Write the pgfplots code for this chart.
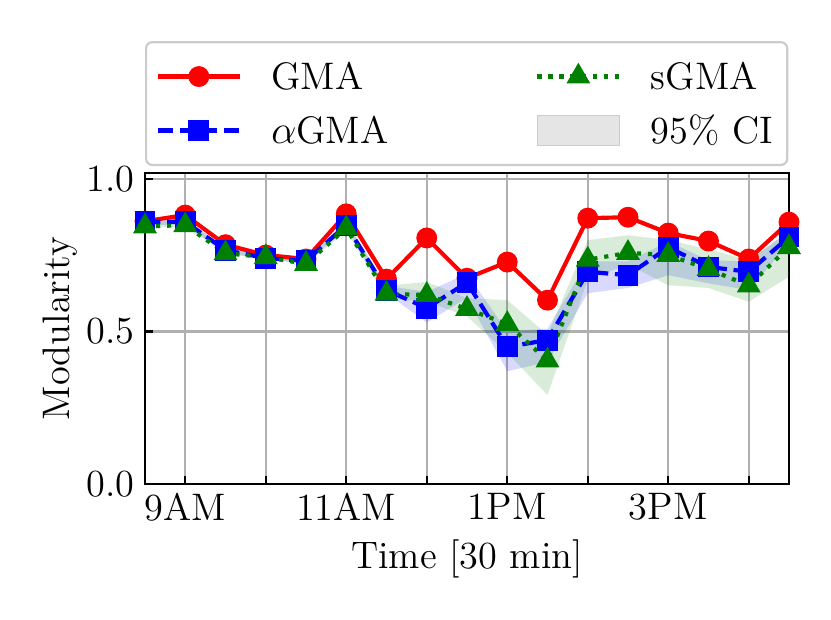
\documentclass[border=0pt]{standalone}
\usepackage{fontspec}
\usepackage{pgfplots}
\pgfplotsset{compat=1.18}
\definecolor{mgreen}{RGB}{0,128,0}
\begin{document}
\begin{tikzpicture}
\begin{axis}[
  scale only axis, width=193.2pt, height=93.3pt,
  xmin=8.5, xmax=16.5, ymin=0, ymax=1.02,
  xtick={9,...,16}, xticklabels={9AM,,11AM,,1PM,,3PM,},
  ytick={0,0.5,1}, yticklabels={0.0,0.5,1.0},
  tick align=inside, xtick pos=left, ytick pos=left,
  major tick length=2.4pt,
  every tick/.style={black, line width=0.67pt},
  grid=major, major grid style={color=black!31, line width=0.67pt},
  axis line style={line width=0.67pt},
  font=\fontsize{11.5}{13.8}\selectfont,
  xticklabel style={inner sep=2.5pt},
  yticklabel style={inner xsep=3pt},
  xlabel={Time [30 min]}, ylabel={Modularity},
  xlabel style={at={(axis description cs:0.5,-0.270)}, anchor=base, inner sep=0pt},
  ylabel style={at={(axis description cs:-0.104,0.5)}, anchor=south, inner sep=0pt},
  legend columns=2, legend cell align=left,
  legend image code/.code={\draw[mark repeat=2,mark phase=2,#1] plot coordinates {(0pt,0pt) (12.3pt,0pt) (24.6pt,0pt)};},
  legend style={
    at={(0,1)}, anchor=south west, yshift=2.1pt,
    draw=black!20, line width=0.67pt, rounded corners=1.8pt, fill=white,
    inner xsep=2.9pt, inner ysep=4.8pt,
    nodes={inner sep=0pt, text height=9.5pt, text depth=1.5pt, text width=38pt, align=left},
    row sep=5.2pt,
    /tikz/every odd column/.append style={column sep=8.8pt},
    /tikz/column 2/.append style={column sep=41.2pt},
    font=\fontsize{11.5}{13.8}\selectfont,
  },
]
% CI bands
\addplot[draw=none, fill=blue, fill opacity=0.15, forget plot] coordinates {
 (8.5,0.870) (9,0.870) (9.5,0.775) (10,0.750) (10.5,0.740) (11,0.860) (11.5,0.650) (12,0.630) (12.5,0.690) (13,0.500) (13.5,0.510) (14,0.730) (14.5,0.730) (15,0.795) (15.5,0.734) (16,0.730) (16.5,0.830)
 (16.5,0.790) (16,0.636) (15.5,0.658) (15,0.685) (14.5,0.643) (14,0.626) (13.5,0.400) (13,0.370) (12.5,0.610) (12,0.530) (11.5,0.625) (11,0.840) (10.5,0.725) (10,0.735) (9.5,0.760) (9,0.850) (8.5,0.850)} -- cycle;
\addplot[draw=none, fill=mgreen, fill opacity=0.15, forget plot] coordinates {
 (8.5,0.860) (9,0.865) (9.5,0.775) (10,0.760) (10.5,0.740) (11,0.860) (11.5,0.650) (12,0.663) (12.5,0.610) (13,0.603) (13.5,0.490) (14,0.800) (14.5,0.816) (15,0.800) (15.5,0.770) (16,0.734) (16.5,0.830)
 (16.5,0.680) (16,0.598) (15.5,0.643) (15,0.652) (14.5,0.720) (14,0.670) (13.5,0.292) (13,0.430) (12.5,0.550) (12,0.598) (11.5,0.610) (11,0.830) (10.5,0.720) (10,0.740) (9.5,0.755) (9,0.845) (8.5,0.840)} -- cycle;
% GMA
\addplot[red, line width=1.25pt, mark=*, mark size=2.5pt, mark options={solid}, forget plot] coordinates {
 (8.5,0.862) (9,0.882) (9.5,0.785) (10,0.751) (10.5,0.738) (11,0.886) (11.5,0.672) (12,0.807) (12.5,0.675) (13,0.728) (13.5,0.603) (14,0.872) (14.5,0.875) (15,0.823) (15.5,0.797) (16,0.738) (16.5,0.859)};
% alpha GMA
\addplot[blue, line width=1.25pt, dash pattern=on 4.6pt off 2pt, mark=square*, mark size=2.5pt, mark options={solid}, forget plot] coordinates {
 (8.5,0.860) (9,0.860) (9.5,0.767) (10,0.741) (10.5,0.732) (11,0.849) (11.5,0.636) (12,0.577) (12.5,0.661) (13,0.450) (13.5,0.472) (14,0.696) (14.5,0.685) (15,0.776) (15.5,0.712) (16,0.696) (16.5,0.810)};
% sGMA
\addplot[mgreen, line width=1.25pt, dash pattern=on 1.25pt off 2.06pt, mark=triangle*, mark size=2.9pt, mark options={solid}, forget plot] coordinates {
 (8.5,0.845) (9,0.849) (9.5,0.757) (10,0.744) (10.5,0.722) (11,0.839) (11.5,0.624) (12,0.620) (12.5,0.574) (13,0.525) (13.5,0.405) (14,0.736) (14.5,0.758) (15,0.751) (15.5,0.705) (16,0.651) (16.5,0.777)};
% legend
\addlegendimage{red, line width=1.25pt, mark=*, mark size=2.5pt, mark options={solid}}
\addlegendentry{GMA}
\addlegendimage{mgreen, line width=1.25pt, dash pattern=on 1.25pt off 2.06pt, mark=triangle*, mark size=2.9pt, mark options={solid}}
\addlegendentry{sGMA}
\addlegendimage{blue, line width=1.25pt, dash pattern=on 4.6pt off 2pt, mark=square*, mark size=2.5pt, mark options={solid}}
\addlegendentry{$\alpha$GMA}
\addlegendimage{legend image code/.code={\draw[sharp corners, fill=black!10, draw=black!20, line width=0.5pt] (0pt,-4.5pt) rectangle (24.6pt,4.5pt);}}
\addlegendentry{95\% CI}
\end{axis}
\path (current axis.south west) ++(-43.5pt,-40.5pt) coordinate (bbA);
\path (current axis.north east) ++(12.6pt,51.9pt) coordinate (bbB);
\path (bbA) rectangle (bbB);
\end{tikzpicture}
\end{document}
